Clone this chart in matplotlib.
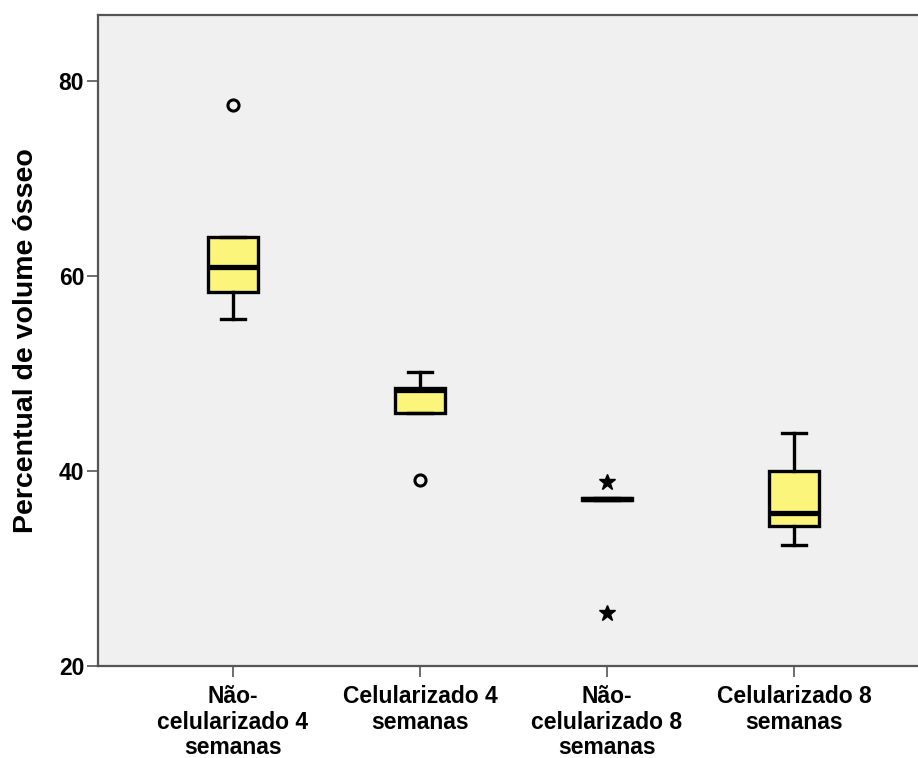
import matplotlib
matplotlib.use("Agg")
import matplotlib.pyplot as plt

# group labels and box statistics (percent bone volume)
groups = ["Não-\ncelularizado 4\nsemanas", "Celularizado 4\nsemanas",
          "Não-\ncelularizado 8\nsemanas", "Celularizado 8\nsemanas"]
q1 = [58.4, 46.0, 37.0, 34.4]
med = [60.9, 48.3, 37.1, 35.7]
q3 = [64.0, 48.5, 37.2, 40.0]
whislo = [55.6, 46.0, 37.0, 32.4]
whishi = [64.0, 50.2, 37.2, 43.9]
outliers = [[77.6], [39.1], [], []]
extremes = [[], [], [38.9, 25.4], []]

yticks = [20, 40, 60, 80]

fig = plt.figure(figsize=(9.18, 7.58), dpi=100)
ax = fig.add_axes([0.1068, 0.1214, 0.8932, 0.8588])
ax.set_facecolor("#f0f0f0")

stats = []
for i in range(len(groups)):
    stats.append(dict(q1=q1[i], med=med[i], q3=q3[i],
                      whislo=whislo[i], whishi=whishi[i], fliers=outliers[i]))

pos = list(range(1, len(groups) + 1))
ax.bxp(stats, positions=pos, widths=0.27, patch_artist=True,
       boxprops=dict(facecolor="#fbf57c", edgecolor="black", linewidth=2.4),
       medianprops=dict(color="black", linewidth=3.8, solid_capstyle="butt"),
       whiskerprops=dict(color="black", linewidth=2.4),
       capprops=dict(color="black", linewidth=2.4),
       capwidths=0.13,
       flierprops=dict(marker="o", markersize=8, markerfacecolor="none",
                       markeredgecolor="black", markeredgewidth=2.2))

# extreme values drawn as asterisks
for p, ex in zip(pos, extremes):
    if ex:
        ax.plot([p] * len(ex), ex, linestyle="none", marker="*",
                markersize=12, color="black")

ax.set_xlim(0.278, 4.663)
ax.set_ylim(20, 86.8)
ax.set_yticks(yticks)
ax.set_yticklabels([str(t) for t in yticks], fontsize=16.5, fontweight="bold",
                   family="Liberation Sans")
ax.set_xticks(pos)
ax.set_xticklabels(groups, fontsize=16.5, fontweight="bold",
                   family="Liberation Sans", linespacing=1.12)
ax.tick_params(axis="both", length=8, width=1.2, color="#555555")
ax.tick_params(axis="x", pad=6)
ax.tick_params(axis="y", pad=2)
ax.set_ylabel("Percentual de volume ósseo", fontsize=20.5, fontweight="bold",
              family="Liberation Sans", labelpad=14)

for side in ["left", "bottom", "top"]:
    ax.spines[side].set_color("#555555")
    ax.spines[side].set_linewidth(1.6)
ax.spines["right"].set_visible(False)

fig.savefig("out.png", dpi=100)
